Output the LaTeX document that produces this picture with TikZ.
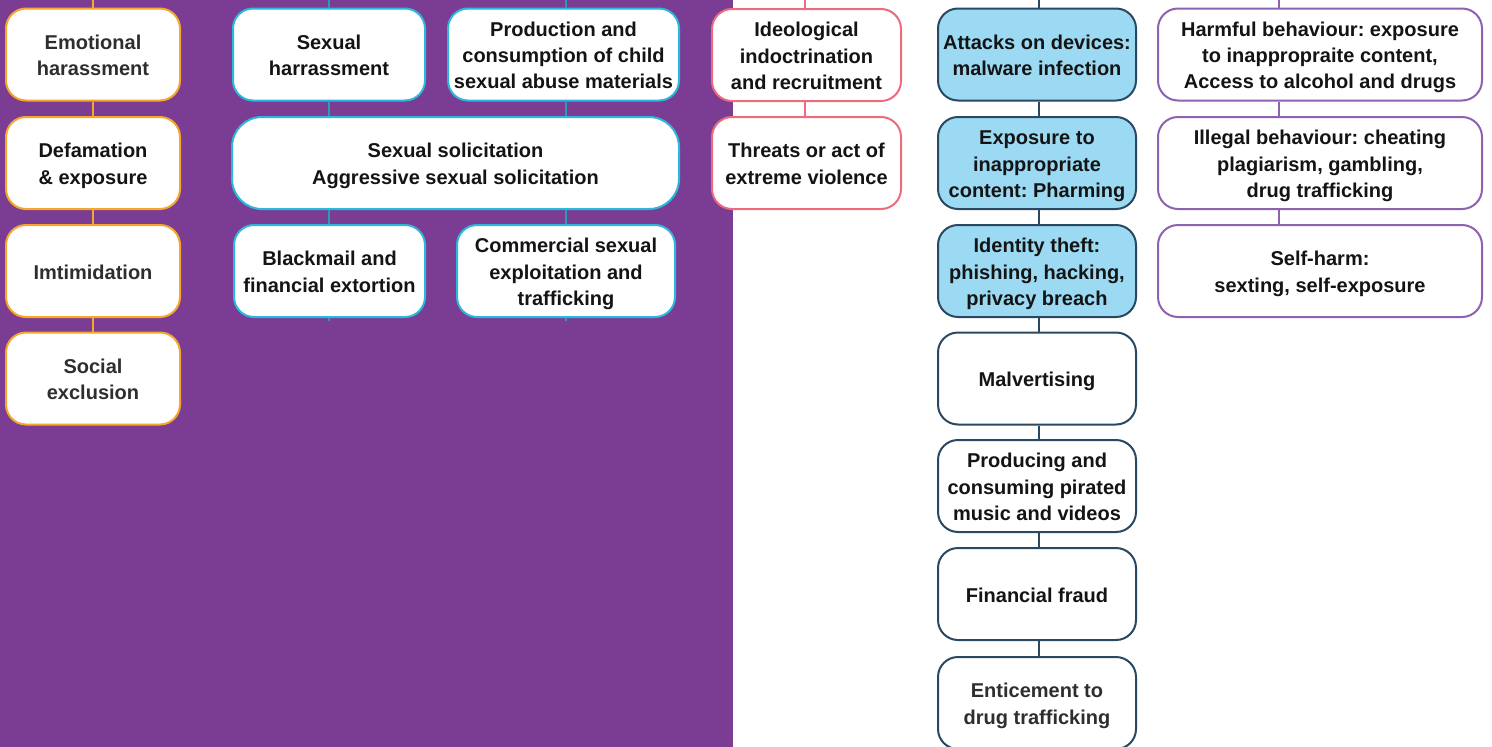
\documentclass[tikz,border=0pt]{standalone}
\usepackage{fontspec}
\setmainfont{Liberation Sans}
\frenchspacing
\definecolor{bgpurple}{HTML}{7B3D94}
\definecolor{corange}{HTML}{F5A62B}
\definecolor{ccyan}{HTML}{2BB8DC}
\definecolor{cline}{HTML}{2A9BB3}
\definecolor{cpink}{HTML}{EE6B7D}
\definecolor{cnavy}{HTML}{2B4862}
\definecolor{cfill}{HTML}{9CDAF3}
\definecolor{cviolet}{HTML}{8D62B0}
\definecolor{ctext}{HTML}{141414}
\definecolor{cgray}{HTML}{2E2E2E}
\newcommand\sT{\rule{0pt}{20.5pt}}
\newcommand\sB{\rule[-4.5pt]{0pt}{4.5pt}}
\tikzset{
  box/.style={draw, line width=2pt, rounded corners=20pt, fill=white, align=center,
    inner sep=0pt, text=ctext, font=\bfseries\fontsize{20}{26.4}\selectfont\frenchspacing,
    execute at end node=\sB,
    minimum height=92pt},
  obox/.style={box, draw=corange, minimum width=174pt},
  cbox/.style={box, draw=ccyan},
  pbox/.style={box, draw=cpink, minimum width=189pt},
  nbox/.style={box, draw=cnavy, minimum width=198pt},
  fbox/.style={nbox, fill=cfill},
  vbox/.style={box, draw=cviolet, minimum width=324pt},
  oline/.style={draw=corange, line width=2pt},
  cln/.style={draw=cline, line width=2pt},
  pline/.style={draw=cpink, line width=2pt},
  nline/.style={draw=cnavy, line width=2pt},
  vline/.style={draw=cviolet, line width=2pt},
}
\begin{document}
\begin{tikzpicture}[x=1pt,y=-1pt]
\useasboundingbox (0,0) rectangle (1492,747);
\fill[bgpurple] (0,0) rectangle (733,747);
\fill[white] (733,0) rectangle (1492,747);

% column 1
\coordinate (t1) at (93,0);
\node[obox, text=cgray] (e1) at (93,54.5) {\sT Emotional\\harassment};
\node[obox] (e2) at (93,163) {\sT Defamation\\\&~exposure};
\node[obox, text=cgray] (e3) at (93,271) {\sT Imtimidation};
\node[obox, text=cgray] (e4) at (93,378.5) {\sT Social\\exclusion};
\draw[oline] (t1) -- (e1.north);
\draw[oline] (e1) -- (e2);
\draw[oline] (e2) -- (e3);
\draw[oline] (e3) -- (e4);

% column 2
\coordinate (t2a) at (329,0);
\coordinate (t2b) at (566,0);
\coordinate (b2a) at (329,321);
\coordinate (b2b) at (566,321);
\node[cbox, minimum width=192pt] (s1) at (329,54.5) {\sT Sexual\\harrassment};
\node[cbox, minimum width=231pt] (s2) at (563.5,54.5) {\sT Production and\\consumption of child\\sexual abuse materials};
\node[cbox, minimum width=447pt, rounded corners=30pt] (s3) at (455.5,163) {\sT Sexual solicitation\\Aggressive sexual solicitation};
\node[cbox, minimum width=191pt] (s4) at (329.5,271) {\sT Blackmail and\\financial extortion};
\node[cbox, minimum width=218pt] (s5) at (566,271) {\sT Commercial sexual\\exploitation and\\trafficking};
\draw[cln] (t2a) -- (s1.north -| t2a);
\draw[cln] (t2b) -- (s2.north -| t2b);
\draw[cln] (s1.south -| t2a) -- (s3.north -| t2a);
\draw[cln] (s2.south -| t2b) -- (s3.north -| t2b);
\draw[cln] (s3.south -| t2a) -- (s4.north -| t2a);
\draw[cln] (s3.south -| t2b) -- (s5.north -| t2b);
\draw[cln] (s4.south -| t2a) -- (b2a);
\draw[cln] (s5.south -| t2b) -- (b2b);

% column 3
\coordinate (t3) at (805,0);
\node[pbox] (r1) at (806.5,55) {\sT Ideological\\indoctrination\\and recruitment};
\node[pbox] (r2) at (806.5,163) {\sT Threats or act of\\extreme violence};
\draw[pline] (t3) -- (r1.north -| t3);
\draw[pline] (r1.south -| t3) -- (r2.north -| t3);

% column 4
\coordinate (t4) at (1039,0);
\node[fbox] (d1) at (1037,54.5) {\sT Attacks on devices:\\malware infection};
\node[fbox] (d2) at (1037,163) {\sT Exposure to\\inappropriate\\content: Pharming};
\node[fbox] (d3) at (1037,271) {\sT Identity theft:\\phishing, hacking,\\privacy breach};
\node[nbox] (d4) at (1037,378.5) {\sT Malvertising};
\node[nbox] (d5) at (1037,486) {\sT Producing and\\consuming pirated\\music and videos};
\node[nbox] (d6) at (1037,594) {\sT Financial fraud};
\node[nbox, text=cgray] (d7) at (1037,703) {\sT Enticement to\\drug trafficking};
\draw[nline] (t4) -- (d1.north -| t4);
\draw[nline] (d1.south -| t4) -- (d2.north -| t4);
\draw[nline] (d2.south -| t4) -- (d3.north -| t4);
\draw[nline] (d3.south -| t4) -- (d4.north -| t4);
\draw[nline] (d4.south -| t4) -- (d5.north -| t4);
\draw[nline] (d5.south -| t4) -- (d6.north -| t4);
\draw[nline] (d6.south -| t4) -- (d7.north -| t4);

% column 5
\coordinate (t5) at (1279,0);
\node[vbox] (h1) at (1320,54.5) {\sT Harmful behaviour: exposure\\to inappropraite content,\\Access to alcohol and drugs};
\node[vbox] (h2) at (1320,163) {\sT Illegal behaviour: cheating\\plagiarism, gambling,\\drug trafficking};
\node[vbox] (h3) at (1320,271) {\sT Self-harm:\\sexting, self-exposure};
\draw[vline] (t5) -- (h1.north -| t5);
\draw[vline] (h1.south -| t5) -- (h2.north -| t5);
\draw[vline] (h2.south -| t5) -- (h3.north -| t5);
\end{tikzpicture}
\end{document}
